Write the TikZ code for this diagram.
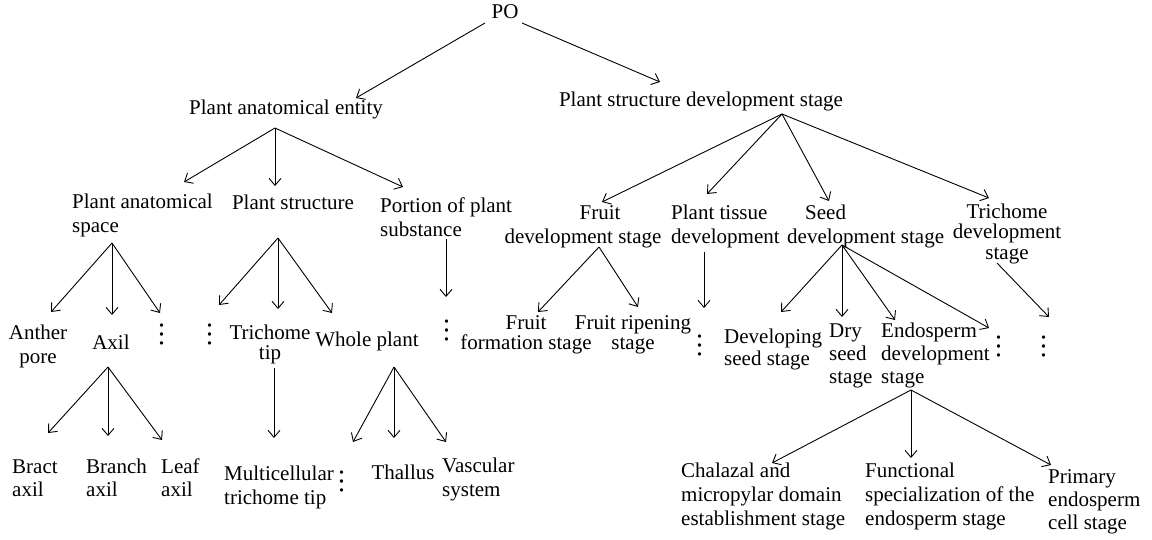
\documentclass[tikz,border=0pt]{standalone}
\usepackage{fontspec}
\setmainfont{Liberation Serif}
\newfontfamily\dotfont{Latin Modern Math}
\usetikzlibrary{arrows.meta}
\newcommand{\tstrut}{\rule{0pt}{16pt}}
\newcommand{\vdts}{{\dotfont\fontsize{32pt}{32pt}\selectfont ⋮}}
\begin{document}
\begin{tikzpicture}[x=1pt,y=-1pt,
  lbl/.style={inner sep=0pt, font=\fontsize{21pt}{24pt}\selectfont},
  ctr/.style={lbl, anchor=north, align=center},
  lft/.style={lbl, anchor=north west, align=left},
  tight/.style={font=\fontsize{21pt}{20.5pt}\selectfont},
  mid/.style={font=\fontsize{21pt}{23pt}\selectfont},
  dts/.style={inner sep=0pt, anchor=center},
  arr/.style={line width=0.9pt, -{Straight Barb[length=7pt,width=12pt]}}]
\fill[white] (0,0) rectangle (1152,539);
\useasboundingbox (0,0) rectangle (1152,539);

% ---- nodes ----
\node[ctr] (po) at (505,2) {\tstrut PO};
\node[ctr] (pae) at (286,98) {\tstrut Plant anatomical entity};
\node[ctr] (psd) at (701,90) {\tstrut Plant structure development stage};
\node[lft] (pas) at (72,192) {\tstrut Plant anatomical\\space};
\node[ctr] (pst) at (293,193) {\tstrut Plant structure};
\node[lft] (pps) at (380,196) {\tstrut Portion of plant\\substance};
\node[ctr] (fds) at (583,203) {\tstrut\hspace*{34pt}Fruit\\development stage};
\node[lft] (ptd) at (671,203) {\tstrut Plant tissue\\development};
\node[lft] (sds) at (787,203) {\tstrut\hspace*{18pt}Seed\\development stage};
\node[ctr,tight] (tds) at (1007,202) {\tstrut Trichome\\development\\stage};
\node[ctr] (an) at (38,323) {\tstrut Anther\\pore};
\node[ctr] (ax) at (111,333) {\tstrut Axil};
\node[dts] (d1) at (162,334) {\vdts};
\node[dts] (d2) at (210,334) {\vdts};
\node[ctr,tight] (tt) at (270,323) {\tstrut Trichome\\tip};
\node[ctr] (wp) at (367,330) {\tstrut Whole plant};
\node[dts] (d3) at (447,330) {\vdts};
\node[ctr,tight] (ffs) at (526,313) {\tstrut Fruit\\formation stage};
\node[ctr,tight] (frs) at (633,313) {\tstrut Fruit ripening\\stage};
\node[dts] (d4) at (700,345) {\vdts};
\node[lft,font=\fontsize{21pt}{22pt}\selectfont] (dvs) at (724,327) {\tstrut Developing\\seed stage};
\node[lft,mid] (dry) at (829,321) {\tstrut Dry\\seed\\stage};
\node[lft,mid] (ens) at (881,321) {\tstrut Endosperm\\development\\stage};
\node[dts] (d5) at (999,346) {\vdts};
\node[dts] (d6) at (1044,346) {\vdts};
\node[lft,mid] (bra) at (12,457) {\tstrut Bract\\axil};
\node[lft,mid] (bax) at (86,457) {\tstrut Branch\\axil};
\node[lft,mid] (lax) at (161,457) {\tstrut Leaf\\axil};
\node[lft] (mtt) at (224,464) {\tstrut Multicellular\\trichome tip};
\node[dts] (d7) at (342,481) {\vdts};
\node[ctr] (tha) at (403,463) {\tstrut Thallus};
\node[lft] (vas) at (442,456) {\tstrut Vascular\\system};
\node[lft] (cha) at (681,461) {\tstrut Chalazal and\\micropylar domain\\establishment stage};
\node[lft] (fun) at (865,461) {\tstrut Functional\\specialization of the\\endosperm stage};
\node[lft,mid] (pri) at (1048,467) {\tstrut Primary\\endosperm\\cell stage};

% ---- connector end points ----
\coordinate (po-o1) at (485,23);  \coordinate (po-o2) at (522,23);
\coordinate (pae-i) at (356,98);  \coordinate (psd-i) at (660,82);
\coordinate (pae-o) at (275,128);
\coordinate (pas-i) at (184,182); \coordinate (pst-i) at (275,186); \coordinate (pps-i) at (403,187);
\coordinate (psd-o) at (782,114);
\coordinate (fds-i) at (602,202); \coordinate (ptd-i) at (707,194);
\coordinate (sds-i) at (829,201); \coordinate (tds-i) at (989,198);
\coordinate (pas-o) at (112,243);
\coordinate (an-i) at (51,312); \coordinate (ax-i) at (112,315); \coordinate (d1-i) at (160,313);
\coordinate (pst-o) at (278,238);
\coordinate (d2-i) at (219,305); \coordinate (tt-i) at (278,309); \coordinate (wp-i) at (332,313);
\coordinate (pps-o) at (446,239); \coordinate (d3-i) at (446,297);
\coordinate (ax-o) at (108,367);
\coordinate (bra-i) at (48,433); \coordinate (bax-i) at (108,436); \coordinate (lax-i) at (162,440);
\coordinate (tt-o) at (274,368); \coordinate (mtt-i) at (274,438);
\coordinate (wp-o) at (394,367);
\coordinate (d7-i) at (353,442); \coordinate (tha-i) at (394,438); \coordinate (vas-i) at (446,442);
\coordinate (fds-o) at (599,247);
\coordinate (ffs-i) at (538,312); \coordinate (frs-i) at (638,307);
\coordinate (ptd-o) at (704,252); \coordinate (d4-i) at (704,308);
\coordinate (sds-o) at (842,245);
\coordinate (dvs-i) at (781,312); \coordinate (dry-i) at (842,317);
\coordinate (ens-i) at (895,320); \coordinate (d5-i) at (989,328);
\coordinate (tds-o) at (997,263); \coordinate (d6-i) at (1049,317);
\coordinate (ens-o) at (911,390);
\coordinate (cha-i) at (772,463); \coordinate (fun-i) at (911,458); \coordinate (pri-i) at (1051,465);

% ---- connectors ----
\draw[arr] (po-o1) -- (pae-i);
\draw[arr] (po-o2) -- (psd-i);
\draw[arr] (pae-o) -- (pas-i);
\draw[arr] (pae-o) -- (pst-i);
\draw[arr] (pae-o) -- (pps-i);
\draw[arr] (psd-o) -- (fds-i);
\draw[arr] (psd-o) -- (ptd-i);
\draw[arr] (psd-o) -- (sds-i);
\draw[arr] (psd-o) -- (tds-i);
\draw[arr] (pas-o) -- (an-i);
\draw[arr] (pas-o) -- (ax-i);
\draw[arr] (pas-o) -- (d1-i);
\draw[arr] (pst-o) -- (d2-i);
\draw[arr] (pst-o) -- (tt-i);
\draw[arr] (pst-o) -- (wp-i);
\draw[arr] (pps-o) -- (d3-i);
\draw[arr] (ax-o) -- (bra-i);
\draw[arr] (ax-o) -- (bax-i);
\draw[arr] (ax-o) -- (lax-i);
\draw[arr] (tt-o) -- (mtt-i);
\draw[arr] (wp-o) -- (d7-i);
\draw[arr] (wp-o) -- (tha-i);
\draw[arr] (wp-o) -- (vas-i);
\draw[arr] (fds-o) -- (ffs-i);
\draw[arr] (fds-o) -- (frs-i);
\draw[arr] (ptd-o) -- (d4-i);
\draw[arr] (sds-o) -- (dvs-i);
\draw[arr] (sds-o) -- (dry-i);
\draw[arr] (sds-o) -- (ens-i);
\draw[arr] (sds-o) -- (d5-i);
\draw[arr] (tds-o) -- (d6-i);
\draw[arr] (ens-o) -- (cha-i);
\draw[arr] (ens-o) -- (fun-i);
\draw[arr] (ens-o) -- (pri-i);
\end{tikzpicture}
\end{document}
